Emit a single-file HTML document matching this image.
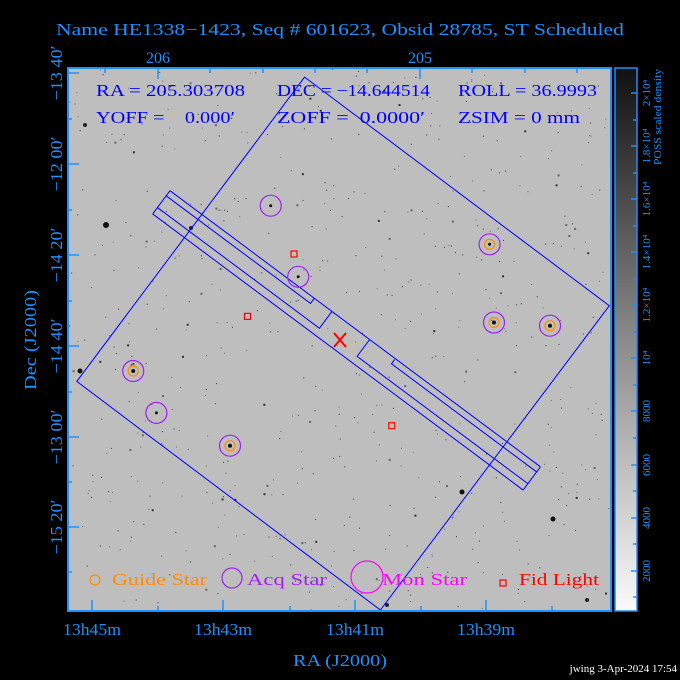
<!DOCTYPE html>
<html><head><meta charset="utf-8"><style>
html,body{margin:0;padding:0;background:#000;}
svg{display:block;}
text{font-family:"Liberation Serif",serif;}
</style></head><body>
<svg id="s" width="680" height="680" viewBox="0 0 680 680" xmlns="http://www.w3.org/2000/svg">
<defs>
<clipPath id="pc"><rect x="68" y="68" width="543" height="543"/></clipPath>
<linearGradient id="cb" x1="0" y1="1" x2="0" y2="0">
<stop offset="0" stop-color="#fafafa"/><stop offset="0.5" stop-color="#8a8a8a"/><stop offset="1" stop-color="#101010"/>
</linearGradient>
</defs>
<rect width="680" height="680" fill="#000"/>
<text x="340" y="35" fill="#1e90ff" font-size="17" text-anchor="middle" textLength="568" lengthAdjust="spacingAndGlyphs">Name HE1338−1423, Seq # 601623, Obsid 28785, ST Scheduled</text>
<rect x="68" y="68" width="543" height="543" fill="#bebebe"/>
<g id="stars" clip-path="url(#pc)">
<circle cx="106" cy="225" r="3" fill="#111"/><circle cx="80" cy="371" r="2.5" fill="#111"/>
<circle cx="462" cy="492" r="2.5" fill="#111"/><circle cx="553" cy="519" r="2.5" fill="#111"/>
<circle cx="85" cy="125" r="2" fill="#222"/><circle cx="191" cy="228" r="2" fill="#222"/>
<circle cx="387" cy="605" r="2" fill="#222"/><circle cx="587" cy="600" r="2" fill="#222"/>
</g>
<g clip-path="url(#pc)" fill="none" stroke="#0000ff" stroke-width="1">
<polygon points="304.6,77.1 609.3,305.7 380.4,610 76.8,381.4"/>
<g transform="translate(170,190.7) rotate(36.7)">
<line x1="0" y1="0" x2="462" y2="0"/>
<line x1="0" y1="29" x2="462" y2="29"/>
<line x1="0" y1="0" x2="0" y2="29"/>
<line x1="462" y1="0" x2="462" y2="29"/>
<polyline points="0,6.4 180,6.4 180,0"/>
<polyline points="0,21 202,21 202,0"/>
<polyline points="249,0 249,21 462,21"/>
<polyline points="281,1 281,6.4 462,6.4"/>
</g>
</g>
<g fill="none" stroke-width="1.2">
<g stroke="#a020f0">
<circle cx="270.7" cy="205.7" r="10.5"/><circle cx="298.2" cy="276.8" r="10.5"/>
<circle cx="489.6" cy="244.3" r="10.5"/><circle cx="494" cy="322.5" r="10.5"/>
<circle cx="550" cy="325.7" r="10.5"/><circle cx="133.2" cy="371" r="10.5"/>
<circle cx="156.4" cy="412.9" r="10.5"/><circle cx="230" cy="445.7" r="10.5"/>
<circle cx="232" cy="578" r="10"/>
</g>
<g stroke="#ff8c00">
<circle cx="489.6" cy="244.3" r="5"/><circle cx="494" cy="322.5" r="5"/>
<circle cx="550" cy="325.7" r="5"/><circle cx="133.2" cy="371" r="5"/>
<circle cx="230" cy="445.7" r="5"/><circle cx="95" cy="580" r="5"/>
</g>
<g stroke="#ff0000">
<rect x="291" y="251" width="6" height="6"/><rect x="244.5" y="313.4" width="6" height="6"/>
<rect x="388.8" y="422.7" width="6" height="6"/><rect x="500" y="580" width="6" height="6"/>
</g>
<circle cx="367" cy="577" r="16" stroke="#ff00ff"/>
<g stroke="#ff0000" stroke-width="2"><line x1="334" y1="333" x2="346" y2="347"/><line x1="346" y1="333" x2="334" y2="347"/></g>
</g>
<g fill="#111"><circle cx="270.7" cy="205.7" r="1.5"/><circle cx="298.2" cy="276.8" r="1.5"/><circle cx="489.6" cy="244.3" r="1.5"/><circle cx="494" cy="322.5" r="2"/><circle cx="550" cy="325.7" r="2"/><circle cx="133.2" cy="371" r="2"/><circle cx="156.4" cy="412.9" r="1.5"/><circle cx="230" cy="445.7" r="2"/></g>
<g font-size="17" fill="#0000ff" lengthAdjust="spacingAndGlyphs">
<text x="96" y="96" textLength="149" lengthAdjust="spacingAndGlyphs">RA = 205.303708</text>
<text x="277" y="96" textLength="153" lengthAdjust="spacingAndGlyphs">DEC = −14.644514</text>
<text x="458" y="96" textLength="139" lengthAdjust="spacingAndGlyphs">ROLL = 36.9993</text>
<text x="96" y="123" xml:space="preserve" textLength="139" lengthAdjust="spacingAndGlyphs">YOFF =    0.000′</text>
<text x="277" y="123" xml:space="preserve" textLength="148" lengthAdjust="spacingAndGlyphs">ZOFF =  0.0000′</text>
<text x="458" y="123" textLength="122" lengthAdjust="spacingAndGlyphs">ZSIM = 0 mm</text>
</g>
<g font-size="17">
<text x="112" y="585" fill="#ff8c00" textLength="95" lengthAdjust="spacingAndGlyphs">Guide Star</text>
<text x="247" y="585" fill="#a020f0" textLength="80" lengthAdjust="spacingAndGlyphs">Acq Star</text>
<text x="382" y="585" fill="#ff00ff" textLength="85" lengthAdjust="spacingAndGlyphs">Mon Star</text>
<text x="519" y="585" fill="#ff0000" textLength="80" lengthAdjust="spacingAndGlyphs">Fid Light</text>
</g>
<rect x="68" y="68" width="543" height="543" fill="none" stroke="#1e90ff" stroke-width="2"/>
<g stroke="#1e90ff" stroke-width="1.5">
<path d="M68 73h11M68 164h11M68 255h11M68 346h11M68 437h11M68 527h11M68 119h4M68 210h4M68 301h4M68 392h4M68 482h4M68 572h4"/>
<path d="M92 611v-11M223 611v-11M355 611v-11M486 611v-11M158 611v-5M290 611v-5M421 611v-5M552 611v-5"/>
<path d="M158 68v11M420 68v11M105 68v5M210 68v5M263 68v5M315 68v5M367 68v5M472 68v5M525 68v5M577 68v5"/>
</g>
<g fill="#1e90ff" font-size="17" text-anchor="middle">
<text x="158" y="63" font-size="16">206</text>
<text x="420" y="63" font-size="16">205</text>
<text transform="translate(62,73) rotate(-90)" textLength="55" lengthAdjust="spacingAndGlyphs">−13 40′</text>
<text transform="translate(62,164) rotate(-90)" textLength="55" lengthAdjust="spacingAndGlyphs">−12 00′</text>
<text transform="translate(62,255) rotate(-90)" textLength="55" lengthAdjust="spacingAndGlyphs">−14 20′</text>
<text transform="translate(62,346) rotate(-90)" textLength="55" lengthAdjust="spacingAndGlyphs">−14 40′</text>
<text transform="translate(62,437) rotate(-90)" textLength="55" lengthAdjust="spacingAndGlyphs">−13 00′</text>
<text transform="translate(62,527) rotate(-90)" textLength="55" lengthAdjust="spacingAndGlyphs">−15 20′</text>
<text x="92" y="635" textLength="58" lengthAdjust="spacingAndGlyphs">13h45m</text>
<text x="223" y="635" textLength="58" lengthAdjust="spacingAndGlyphs">13h43m</text>
<text x="355" y="635" textLength="58" lengthAdjust="spacingAndGlyphs">13h41m</text>
<text x="486" y="635" textLength="58" lengthAdjust="spacingAndGlyphs">13h39m</text>
<text x="340" y="666" textLength="94" lengthAdjust="spacingAndGlyphs">RA (J2000)</text>
<text transform="translate(36,340) rotate(-90)" textLength="100" lengthAdjust="spacingAndGlyphs">Dec (J2000)</text>
</g>
<text x="677" y="672" fill="#fff" font-size="11" text-anchor="end" font-family="Liberation Sans,sans-serif">jwing  3-Apr-2024 17:54</text>
<rect x="615" y="68" width="22" height="543" fill="url(#cb)" stroke="#1e90ff" stroke-width="1.5"/>
<g stroke="#1e90ff" stroke-width="1.5">
<path d="M637 93h-6M637 146h-6M637 199h-6M637 252h-6M637 305h-6M637 358h-6M637 411h-6M637 465h-6M637 518h-6M637 571h-6"/>
<path d="M637 120h-4M637 173h-4M637 226h-4M637 279h-4M637 332h-4M637 385h-4M637 438h-4M637 491h-4M637 544h-4M637 597h-4"/>
</g>
<g fill="#1e90ff" font-size="11" text-anchor="middle" font-family="Liberation Mono,monospace">
<text transform="translate(650,93) rotate(-90)">2×10⁴</text>
<text transform="translate(650,146) rotate(-90)">1.8×10⁴</text>
<text transform="translate(650,199) rotate(-90)">1.6×10⁴</text>
<text transform="translate(650,252) rotate(-90)">1.4×10⁴</text>
<text transform="translate(650,305) rotate(-90)">1.2×10⁴</text>
<text transform="translate(650,358) rotate(-90)">10⁴</text>
<text transform="translate(650,411) rotate(-90)">8000</text>
<text transform="translate(650,465) rotate(-90)">6000</text>
<text transform="translate(650,518) rotate(-90)">4000</text>
<text transform="translate(650,571) rotate(-90)">2000</text>
<text transform="translate(661,117) rotate(-90)" font-size="10" textLength="96" lengthAdjust="spacingAndGlyphs">POSS scaled density</text>
</g>
<script>
(function(){var g=document.getElementById('stars');var s=12345;function r(){s=(s*1103515245+12345)%2147483648;return s/2147483648;}
var ns='http://www.w3.org/2000/svg';for(var i=0;i<600;i++){var c=document.createElementNS(ns,'rect');var x=68+r()*543,y=68+r()*543;var w=r()<0.9?1:2;c.setAttribute('x',x);c.setAttribute('y',y);c.setAttribute('width',w);c.setAttribute('height',w);c.setAttribute('fill',r()<0.5?'#333':'#666');g.appendChild(c);}})();
</script>
</svg>
</body></html>
